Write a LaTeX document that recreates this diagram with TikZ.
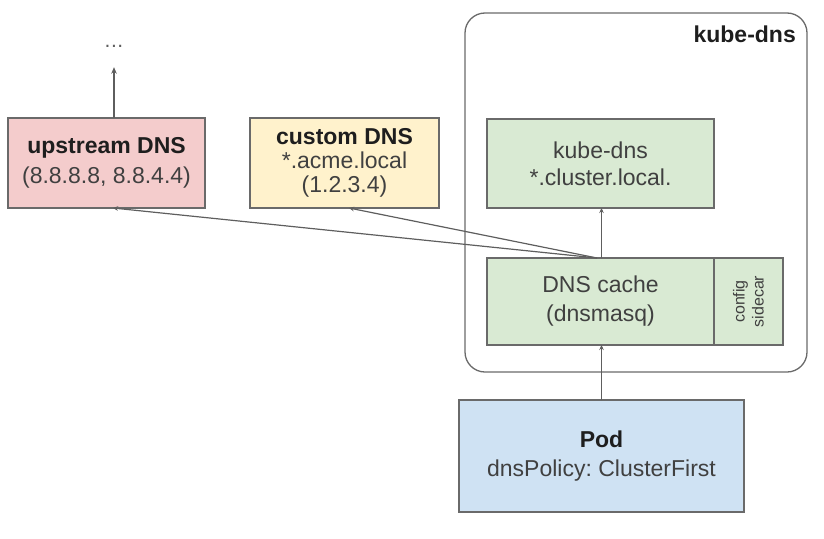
\documentclass[tikz,border=0pt]{standalone}
\usepackage{fontspec}
\setmainfont{Liberation Sans}
\usetikzlibrary{arrows.meta}
\definecolor{linegray}{HTML}{5E5E5E}
\definecolor{boxgray}{HTML}{6A6A6A}
\definecolor{pinkfill}{HTML}{F4CCCC}
\definecolor{yellowfill}{HTML}{FFF2CC}
\definecolor{greenfill}{HTML}{D9EAD3}
\definecolor{bluefill}{HTML}{CFE2F3}
\definecolor{titletext}{HTML}{1E1E1E}
\definecolor{bodytext}{HTML}{404040}
\frenchspacing
\begin{document}
\begin{tikzpicture}[x=1pt,y=-1pt,
  box/.style={draw=boxgray, line width=1.3pt, inner sep=0pt, outer sep=0pt,
    align=center, text=bodytext, font=\fontsize{23}{28}\selectfont},
  conn/.style={draw=linegray, line width=1.2pt, -{Stealth[length=5pt,width=4.5pt]}},
  bigconn/.style={conn, -{Stealth[length=6.5pt,width=5.5pt]}},
  ttl/.style={text=titletext, font=\bfseries\fontsize{23}{28}\selectfont},
]
\useasboundingbox (0,0) rectangle (824,538);
% outer kube-dns pod box
\node[draw=boxgray, line width=1.3pt, rounded corners=20pt, inner sep=0pt,
  minimum width=342, minimum height=359] (outer) at (636,192.5) {};
\node[ttl, anchor=base east, inner sep=0pt] (outertitle) at (796,42) {kube-dns};
% boxes
\node[box, fill=pinkfill, minimum width=197, minimum height=90,
  font=\fontsize{23}{30}\selectfont] (up) at (106.5,163)
  {{\color{titletext}\bfseries upstream DNS}\\(8.8.8.8, 8.8.4.4)};
\node[box, fill=yellowfill, minimum width=189, minimum height=90,
  font=\fontsize{23}{24}\selectfont] (cust) at (344.5,163)
  {{\color{titletext}\bfseries custom DNS}\\*.acme.local\\(1.2.3.4)};
\node[box, fill=greenfill, minimum width=227, minimum height=89,
  font=\fontsize{23}{27}\selectfont] (kd) at (600.5,163.5)
  {kube-dns\\*.cluster.local.};
\node[box, fill=greenfill, minimum width=227, minimum height=87,
  font=\fontsize{23}{29}\selectfont] (cache) at (600.5,301.5)
  {DNS cache\\(dnsmasq)};
\node[box, fill=greenfill, rotate=90, minimum width=87, minimum height=69,
  font=\fontsize{16}{19}\selectfont] (side) at (748.5,301.5)
  {config\\sidecar};
\node[box, fill=bluefill, minimum width=285, minimum height=112,
  font=\fontsize{23}{29}\selectfont] (pod) at (601.5,456)
  {{\color{titletext}\bfseries Pod}\\dnsPolicy: ClusterFirst};
% ellipsis above upstream
\node[text=linegray, font=\fontsize{21}{24}\selectfont, anchor=base,
  inner xsep=0pt, inner ysep=0pt] (dots) at (114,47) {.\kern0.5pt.\kern0.5pt.};
% connectors
\draw[bigconn] ([xshift=7.5pt]up.north) -- ([yshift=-20pt]dots.south);
\draw[conn] (pod.north) -- (pod.north |- cache.south);
\draw[conn] (cache.north -| pod.north) -- (kd.south -| pod.north);
\draw[conn] ([xshift=-3.5pt]cache.north) -- ([xshift=6.5pt]up.south);
\draw[conn] ([xshift=-3.5pt]cache.north) -- ([xshift=4.5pt]cust.south);
\end{tikzpicture}
\end{document}
